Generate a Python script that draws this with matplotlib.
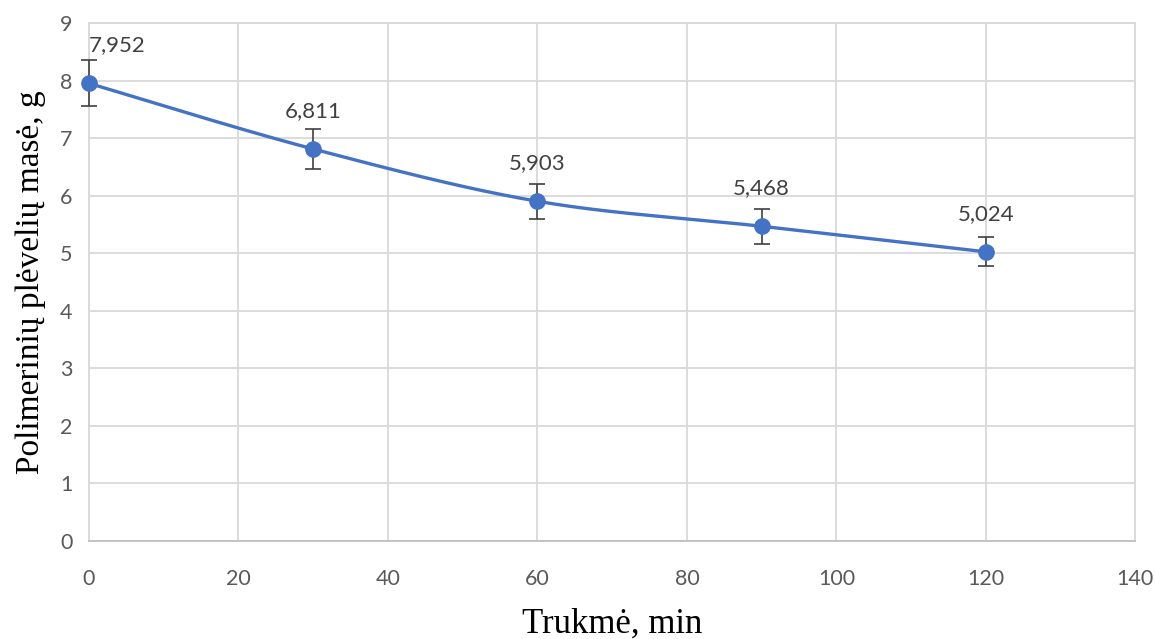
import numpy as np
import matplotlib.pyplot as plt

# Film mass over processing time
time_min = [0, 30, 60, 90, 120]
mass_g = [7.952, 6.811, 5.903, 5.468, 5.024]
mass_err = [0.40, 0.35, 0.30, 0.30, 0.25]
value_labels = ["7,952", "6,811", "5,903", "5,468", "5,024"]

x_ticks = [0, 20, 40, 60, 80, 100, 120, 140]
y_ticks = [0, 1, 2, 3, 4, 5, 6, 7, 8, 9]

line_color = "#4472C4"
grid_color = "#d9d9d9"
tick_color = "#595959"


def smooth_curve(x, y, n=40):
    # cubic Bezier segments with Catmull-Rom style control points
    x = np.asarray(x, float)
    y = np.asarray(y, float)
    px = np.concatenate([[x[0]], x, [x[-1]]])
    py = np.concatenate([[y[0]], y, [y[-1]]])
    xs, ys = [], []
    t = np.linspace(0, 1, n)
    for i in range(len(x) - 1):
        p0 = np.array([px[i + 1], py[i + 1]])
        p3 = np.array([px[i + 2], py[i + 2]])
        c1 = p0 + (np.array([px[i + 2], py[i + 2]]) - np.array([px[i], py[i]])) / 6
        c2 = p3 - (np.array([px[i + 3], py[i + 3]]) - np.array([px[i + 1], py[i + 1]])) / 6
        b = ((1 - t) ** 3)[:, None] * p0 + (3 * (1 - t) ** 2 * t)[:, None] * c1 \
            + (3 * (1 - t) * t ** 2)[:, None] * c2 + (t ** 3)[:, None] * p3
        xs.extend(b[:, 0])
        ys.extend(b[:, 1])
    return np.array(xs), np.array(ys)


fig = plt.figure(figsize=(11.55, 6.39), dpi=100)
ax = fig.add_axes([0.077, 0.1534, 0.906, 0.8106])

sx, sy = smooth_curve(time_min, mass_g)
ax.plot(sx, sy, color=line_color, linewidth=2.4, zorder=3, clip_on=False)
eb = ax.errorbar(time_min, mass_g, yerr=mass_err, fmt="none", ecolor="#404040",
                 elinewidth=1.2, capsize=5.5, capthick=1.2, zorder=4)
for art in eb.lines[1] + eb.lines[2]:
    art.set_clip_on(False)
ax.plot(time_min, mass_g, "o", color=line_color, markersize=11, zorder=5,
        clip_on=False)

# value labels above each point; the first is nudged right to stay clear of the axis
for i, (x, y, lab) in enumerate(zip(time_min, mass_g, value_labels)):
    dx = 28 if i == 0 else 0
    ax.annotate(lab, (x, y), xytext=(dx, 38), textcoords="offset pixels",
                ha="center", va="center", fontsize=16, family="Lato",
                color="#404040", zorder=6)

ax.set_xlim(0, 140)
ax.set_ylim(0, 9)
ax.set_xticks(x_ticks)
ax.set_yticks(y_ticks)
ax.grid(True, color=grid_color, linewidth=1.3)
ax.set_axisbelow(True)
for side in ["top", "right", "left"]:
    ax.spines[side].set_color(grid_color)
    ax.spines[side].set_linewidth(1.3)
ax.spines["bottom"].set_color("#bfbfbf")
ax.spines["bottom"].set_linewidth(1.3)

ax.tick_params(axis="both", length=0, labelcolor=tick_color, labelsize=15.5)
ax.tick_params(axis="x", pad=20)
ax.tick_params(axis="y", pad=12)
for lab in ax.get_xticklabels() + ax.get_yticklabels():
    lab.set_family("Lato")

ax.set_xlabel("Trukmė, min", family="Liberation Serif", fontsize=25,
              color="black", labelpad=14)
ax.set_ylabel("Polimerinių plėvelių masė, g", family="Liberation Serif",
              fontsize=24, color="black", labelpad=10)

fig.savefig("out.png", dpi=100)
